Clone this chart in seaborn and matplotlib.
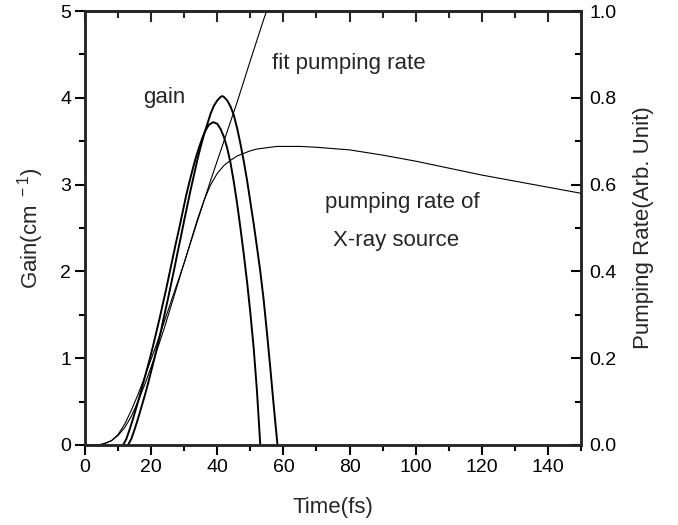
import pandas as pd
import matplotlib
matplotlib.use("Agg")
import matplotlib.pyplot as plt
import seaborn as sns
from matplotlib.ticker import MultipleLocator, FormatStrFormatter

#Data (time in fs, values on the gain scale 0-5)
gain_a_t = [13, 14, 15, 16, 17, 18, 19, 20, 21, 22, 23, 24, 25, 26, 27, 28, 29, 30, 31, 32, 33, 34, 35,
            36, 37, 38, 39, 40, 41, 41.5, 42, 43, 44, 45, 46, 47, 48, 49, 50, 51, 52, 53, 54, 55, 56, 57, 58.2]
gain_a_v = [0, 0.07, 0.18, 0.3, 0.43, 0.56, 0.7, 0.85, 1.0, 1.16, 1.32, 1.5, 1.67, 1.85, 2.03, 2.22, 2.4, 2.59, 2.77, 2.95, 3.12, 3.29, 3.44,
            3.58, 3.7, 3.82, 3.91, 3.97, 4.01, 4.02, 4.01, 3.97, 3.9, 3.8, 3.65, 3.47, 3.27, 3.05, 2.8, 2.55, 2.28, 2.0, 1.68, 1.3, 0.9, 0.48, 0]

gain_b_t = [11.5, 12.5, 13.5, 14.5, 15.5, 16.5, 17.5, 18.5, 19.5, 20.5, 21.5, 22.5, 23.5, 24.5, 25.5, 26.5, 27.5, 28.5, 29.5, 30.5,
            31.5, 32.5, 33.5, 34.5, 35.5, 36.5, 37.5, 38.8, 40, 41, 42, 43, 44, 45, 46, 47, 48, 49, 50, 51, 52, 53]
gain_b_v = [0, 0.07, 0.18, 0.3, 0.43, 0.56, 0.7, 0.84, 0.98, 1.13, 1.29, 1.45, 1.62, 1.79, 1.97, 2.15, 2.33, 2.5, 2.68, 2.86,
            3.02, 3.17, 3.31, 3.43, 3.54, 3.63, 3.69, 3.72, 3.7, 3.64, 3.55, 3.42, 3.25, 3.03, 2.78, 2.5, 2.2, 1.88, 1.52, 1.12, 0.62, 0]

fit_t = [0, 5, 8, 10, 12, 14, 16, 18, 20, 22, 26, 30, 34, 38, 42, 46, 50, 54, 56]
fit_v = [0, 0, 0.05, 0.12, 0.24, 0.4, 0.58, 0.78, 0.99, 1.2, 1.65, 2.1, 2.58, 3.05, 3.5, 3.95, 4.43, 4.9, 5.12]

source_t = [0, 4, 6, 8, 10, 12, 14, 16, 18, 20, 22, 24, 26, 28, 30, 32, 34, 36, 38, 40, 42, 44, 46, 48, 50, 52, 54, 56, 58, 60,
            65, 70, 80, 90, 100, 110, 120, 130, 140, 150]
source_v = [0, 0, 0.02, 0.05, 0.11, 0.2, 0.33, 0.5, 0.69, 0.9, 1.12, 1.35, 1.6, 1.85, 2.1, 2.35, 2.6, 2.82, 3.0, 3.13, 3.22, 3.28, 3.33, 3.36, 3.39, 3.41, 3.42, 3.43, 3.44, 3.44,
            3.44, 3.43, 3.4, 3.34, 3.27, 3.19, 3.11, 3.04, 2.97, 2.9]

#Plot styling
sns.set_theme(style="ticks")
plt.rcParams["font.family"] = ["Liberation Sans", "DejaVu Sans"]
plt.rcParams["mathtext.default"] = "regular"
plt.rcParams["axes.linewidth"] = 1.8

fig = plt.figure(figsize=(6.78, 5.25), dpi=100)
ax = fig.add_axes([0.1254, 0.1524, 0.857 - 0.1254, 0.979 - 0.1524])

curves = [
    (gain_a_t, gain_a_v, 1.4),
    (gain_b_t, gain_b_v, 1.4),
    (fit_t, fit_v, 0.8),
    (source_t, source_v, 0.8),
]
for t, v, lw in curves:
    df = pd.DataFrame({"t": t, "v": v})
    sns.lineplot(data=df, x="t", y="v", color="black", linewidth=lw,
                 sort=False, estimator=None, ax=ax)

ax.set_xlim(0, 150)
ax.set_ylim(0, 5)
ax.xaxis.set_major_locator(MultipleLocator(20))
ax.xaxis.set_minor_locator(MultipleLocator(10))
ax.yaxis.set_major_locator(MultipleLocator(1))
ax.yaxis.set_minor_locator(MultipleLocator(0.5))
ax.tick_params(which="both", direction="out", width=1.5, labelsize=14, colors="black")
ax.tick_params(which="major", length=7, pad=3)
ax.tick_params(which="minor", length=4)
ax.set_xlabel("Time(fs)", fontsize=16, labelpad=15)
ax.set_ylabel("Gain(cm$^{\\ -1}$)", fontsize=16, labelpad=10)

#top axis: ticks only, pointing inward
top = ax.secondary_xaxis("top")
top.xaxis.set_major_locator(MultipleLocator(20))
top.xaxis.set_minor_locator(MultipleLocator(10))
top.tick_params(which="both", direction="in", width=1.5, labeltop=False)
top.tick_params(which="major", length=8)
top.tick_params(which="minor", length=5)

#right axis: pumping rate
ax2 = ax.twinx()
ax2.set_ylim(0, 1)
ax2.yaxis.set_major_locator(MultipleLocator(0.2))
ax2.yaxis.set_minor_locator(MultipleLocator(0.1))
ax2.yaxis.set_major_formatter(FormatStrFormatter("%.1f"))
ax2.tick_params(which="both", direction="in", width=1.5, labelsize=14, colors="black")
ax2.tick_params(which="major", length=7, pad=6)
ax2.tick_params(which="minor", length=4)
ax2.set_ylabel("Pumping Rate(Arb. Unit)", fontsize=16, labelpad=12)
ax2.grid(False)

#annotations
ax.text(17.5, 4.0, "gain", fontsize=16, va="center", ha="left")
ax.text(56.5, 4.4, "fit pumping rate", fontsize=16, va="center", ha="left")
ax.text(72.6, 2.79, "pumping rate of", fontsize=16, va="center", ha="left")
ax.text(75, 2.36, "X-ray source", fontsize=16, va="center", ha="left")

plt.savefig("out.png", dpi=100)
